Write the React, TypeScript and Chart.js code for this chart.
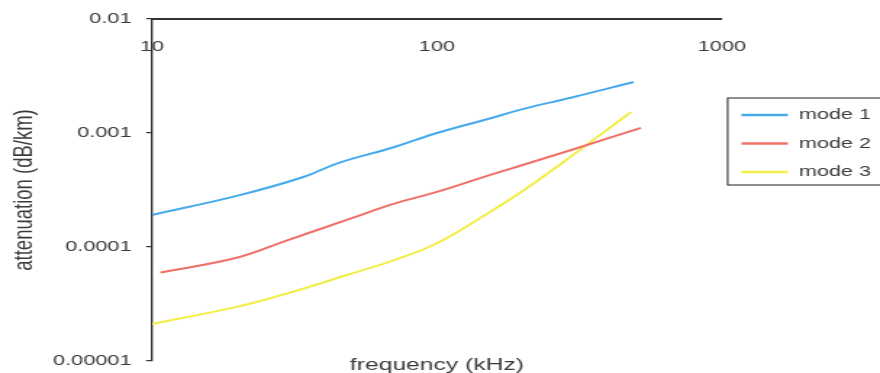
import React, { useEffect, useRef } from 'react';
import { Chart, registerables } from 'chart.js';

Chart.register(...registerables);

// Attenuation curves (dB/km) against frequency (kHz)
const freqMode1 = [10, 20, 34, 45, 70, 100, 150, 200, 300, 490];
const attMode1 = [1.91e-4, 2.82e-4, 4.11e-4, 5.45e-4, 7.46e-4, 1.0e-3, 1.32e-3, 1.62e-3, 2.06e-3, 2.8e-3];

const freqMode2 = [10.7, 20, 30, 50, 70, 100, 150, 200, 300, 520];
const attMode2 = [5.97e-5, 8.09e-5, 1.15e-4, 1.78e-4, 2.38e-4, 3.04e-4, 4.2e-4, 5.24e-4, 7.17e-4, 1.11e-3];

const freqMode3 = [10, 20, 30, 50, 70, 100, 150, 200, 300, 480];
const attMode3 = [2.11e-5, 3.0e-5, 3.93e-5, 5.83e-5, 7.6e-5, 1.08e-4, 1.96e-4, 3.1e-4, 6.4e-4, 1.53e-3];

const seriesNames = ['mode 1', 'mode 2', 'mode 3'];
const xTicks = [10, 100, 1000];
const yTicks = [0.00001, 0.0001, 0.001, 0.01];
const yTickLabels = ['0.00001', '0.0001', '0.001', '0.01'];

const FONT = "'Liberation Sans', Arial, sans-serif";
const INK = '#3a3a3a';

// drawing surface is rendered narrower and widened by CSS
const RENDER_W = 607;
const RENDER_H = 373;

const toPoints = (xs: number[], ys: number[]) => xs.map((x, i) => ({ x, y: ys[i] }));

export default function App() {
  const ref = useRef<HTMLCanvasElement>(null);

  useEffect(() => {
    const canvas = ref.current;
    if (!canvas) return;

    // frame around the legend entries
    const legendFrame = {
      id: 'legendFrame',
      afterDraw(chart: any) {
        const lg = chart.legend;
        const boxes = lg && lg.legendHitBoxes;
        if (!boxes || !boxes.length) return;
        const left = Math.min(...boxes.map((b: any) => b.left)) - 9.5;
        const top = Math.min(...boxes.map((b: any) => b.top)) - 9.5;
        const bottom = Math.max(...boxes.map((b: any) => b.top + b.height)) + 5.5;
        const ctx = chart.ctx;
        ctx.save();
        ctx.strokeStyle = '#444';
        ctx.lineWidth = 1.2;
        ctx.strokeRect(left, top, chart.width - left + 5, bottom - top);
        ctx.restore();
      },
    };

    const colors = ['rgb(70,170,236)', 'rgb(238,112,102)', 'rgb(242,238,72)'];
    const series = [
      toPoints(freqMode1, attMode1),
      toPoints(freqMode2, attMode2),
      toPoints(freqMode3, attMode3),
    ];

    const chart = new Chart(canvas, {
      type: 'line',
      data: {
        datasets: series.map((data, i) => ({
          label: seriesNames[i],
          data,
          borderColor: colors[i],
          backgroundColor: colors[i],
          borderWidth: 2,
          pointRadius: 0,
          tension: 0.4,
          fill: false,
          xAxisID: 'x',
          yAxisID: 'y',
        })),
      },
      options: {
        animation: false,
        responsive: false,
        devicePixelRatio: 1,
        layout: { padding: 0, autoPadding: false },
        font: { family: FONT },
        scales: {
          x: {
            type: 'logarithmic',
            position: 'top',
            min: 10,
            max: 1000,
            afterBuildTicks: (scale: any) => {
              scale.ticks = xTicks.map((v) => ({ value: v }));
            },
            afterFit: (scale: any) => {
              scale.height = 19;
              scale.paddingLeft = 0;
              scale.paddingRight = 0;
            },
            ticks: {
              mirror: true,
              padding: 19,
              color: INK,
              font: { family: FONT, size: 15 },
              autoSkip: false,
              maxRotation: 0,
              callback: (v: any) => String(v),
            },
            grid: { display: true, drawOnChartArea: false, drawTicks: false },
            border: { display: true, color: '#333', width: 2 },
          },
          x2: {
            axis: 'x',
            type: 'logarithmic',
            position: 'bottom',
            min: 10,
            max: 1000,
            afterFit: (scale: any) => {
              scale.height = 12;
              scale.paddingLeft = 0;
              scale.paddingRight = 0;
            },
            ticks: { display: false },
            grid: { display: false, drawTicks: false },
            border: { display: false },
            title: {
              display: true,
              text: 'frequency (kHz)',
              color: INK,
              font: { family: FONT, size: 17 },
              padding: { top: 0, bottom: -3 },
            },
          },
          y: {
            type: 'logarithmic',
            position: 'left',
            min: 0.00001,
            max: 0.01,
            afterBuildTicks: (scale: any) => {
              scale.ticks = yTicks.map((v) => ({ value: v }));
            },
            afterFit: (scale: any) => {
              scale.width = 104.8;
              scale.paddingTop = 0;
              scale.paddingBottom = 0;
            },
            ticks: {
              padding: 10,
              color: INK,
              font: { family: FONT, size: 15 },
              autoSkip: false,
              callback: (v: any) => {
                const i = yTicks.indexOf(Number(v));
                return i >= 0 ? yTickLabels[i] : '';
              },
            },
            grid: {
              display: true,
              drawOnChartArea: false,
              drawTicks: true,
              tickLength: 4,
              color: '#333',
              lineWidth: 1.2,
            },
            border: { display: true, color: '#333', width: 1.4 },
            title: {
              display: true,
              text: 'attenuation (dB/km)',
              color: INK,
              font: { family: FONT, size: 18.5 },
              padding: { top: 6, bottom: 0 },
            },
          },
        },
        plugins: {
          tooltip: { enabled: false },
          legend: {
            display: true,
            position: 'right',
            align: 'start',
            maxWidth: 109.1,
            title: {
              display: true,
              text: '',
              font: { size: 1 },
              padding: { top: 92.8, bottom: 0 },
            },
            labels: {
              boxWidth: 32,
              boxHeight: 2.5,
              padding: 13.5,
              color: INK,
              font: { family: FONT, size: 15 },
              generateLabels: (c: any) =>
                Chart.defaults.plugins.legend.labels
                  .generateLabels(c)
                  .map((l: any) => ({ ...l, lineWidth: 0, fillStyle: l.strokeStyle })),
            },
          },
        },
      },
      plugins: [legendFrame],
    } as any);

    return () => chart.destroy();
  }, []);

  return (
    <div style={{ position: 'fixed', left: 0, top: 0, width: 880, height: 373, background: '#fff' }}>
      <canvas
        ref={ref}
        width={RENDER_W}
        height={RENDER_H}
        style={{ width: '880px', height: '373px', display: 'block' }}
      />
    </div>
  );
}
